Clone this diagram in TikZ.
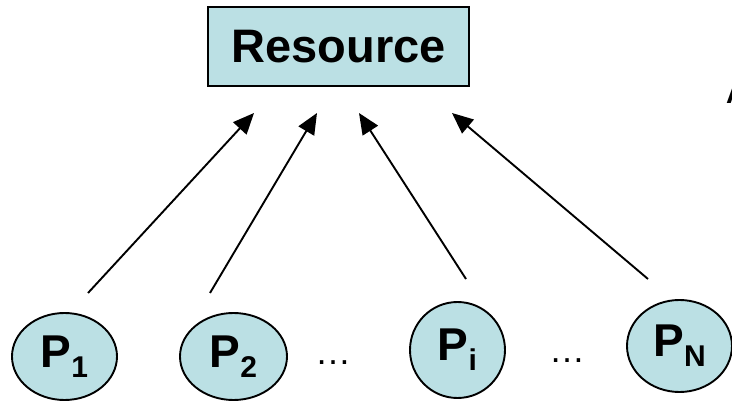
\documentclass[tikz,border=0pt]{standalone}
\usepackage{fontspec}
\setmainfont{Liberation Sans}
\usetikzlibrary{arrows.meta,shapes.geometric}
\definecolor{procfill}{RGB}{187,224,228}
\tikzset{
  resbox/.style={draw=black, line width=2.4pt, fill=procfill, inner sep=0pt,
    minimum width=261pt, minimum height=79pt,
    font=\fontsize{47}{50}\selectfont\bfseries},
  proc/.style={ellipse, draw=black, line width=1.9pt, fill=procfill, inner sep=0pt},
  req/.style={line width=1.9pt, -{Triangle[length=21pt,width=18pt]}},
  dots/.style={inner sep=0pt, font=\fontsize{36}{36}\selectfont}
}
\newcommand{\plabel}[1]{{\fontsize{46}{46}\selectfont\bfseries P\raisebox{-10pt}{\fontsize{30}{30}\selectfont #1}}}
\begin{document}
\begin{tikzpicture}[x=1pt,y=-1pt]
  \useasboundingbox (0,0) rectangle (732,401);
  \clip (0,0) rectangle (732,401);
  % shared resource
  \node[resbox] (res) at (338.5,46.5) {Resource};
  % processes
  \node[proc, minimum width=105pt, minimum height=87pt] (p1) at (64.5,356.5) {\plabel{1}};
  \node[proc, minimum width=107pt, minimum height=87pt] (p2) at (233.5,356.5) {\plabel{2}};
  \node[proc, minimum width=95pt, minimum height=96pt] (pi) at (457.5,350) {\plabel{i}};
  \node[proc, minimum width=105pt, minimum height=92pt] (pn) at (679.5,346) {\plabel{N}};
  \node[dots] (d1) at (333,363) {\dots};
  \node[dots] (d2) at (567,361) {\dots};
  % heading letter running off the right edge
  \node[anchor=base west, inner sep=0pt, font=\fontsize{28}{28}\selectfont\bfseries] (lbl) at (726,104) {A};
  % request arrows
  \coordinate (t1) at (88,293);  \coordinate (h1) at (254,113);
  \coordinate (t2) at (210,293); \coordinate (h2) at (317,113);
  \coordinate (t3) at (466,279); \coordinate (h3) at (359,113);
  \coordinate (t4) at (648,279); \coordinate (h4) at (452,113);
  \draw[req] (t1) -- (h1);
  \draw[req] (t2) -- (h2);
  \draw[req] (t3) -- (h3);
  \draw[req] (t4) -- (h4);
\end{tikzpicture}
\end{document}
